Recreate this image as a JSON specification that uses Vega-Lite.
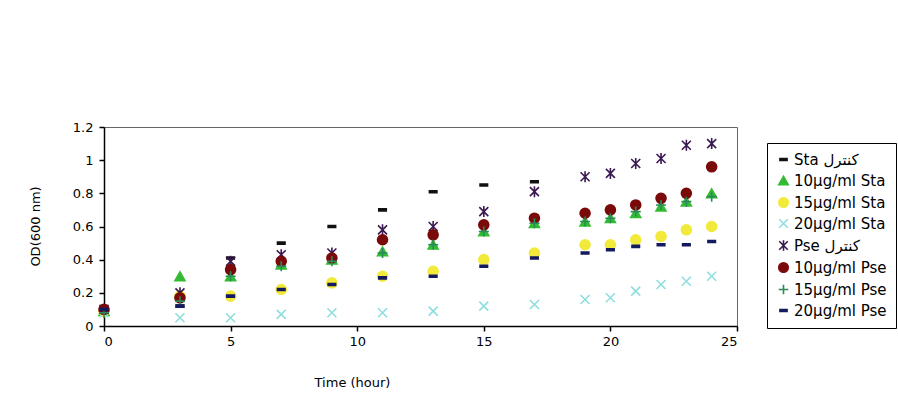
{
  "$schema": "https://vega.github.io/schema/vega-lite/v6.json",
  "width": 633,
  "height": 199,
  "autosize": {"type": "none"},
  "padding": {"left": 104, "top": 127, "right": 161, "bottom": 81},
  "background": "white",
  "config": {
    "font": "DejaVu Sans",
    "view": {"stroke": "#666666", "strokeWidth": 1},
    "axis": {
      "domainColor": "black",
      "domainWidth": 1.5,
      "tickColor": "black",
      "tickWidth": 1.5,
      "tickSize": 5,
      "labelFont": "DejaVu Sans",
      "labelFontSize": 13,
      "labelColor": "black",
      "titleFont": "DejaVu Sans",
      "titleFontSize": 13,
      "titleFontWeight": "normal",
      "titleColor": "black",
      "grid": false
    },
    "legend": {
      "labelFont": "DejaVu Sans",
      "labelFontSize": 15,
      "labelColor": "black"
    }
  },
  "data": {
    "values": [
      {"t": 0, "od": 0.10, "series": "Sta کنترل"},
      {"t": 3, "od": 0.12, "series": "Sta کنترل"},
      {"t": 5, "od": 0.41, "series": "Sta کنترل"},
      {"t": 7, "od": 0.50, "series": "Sta کنترل"},
      {"t": 9, "od": 0.60, "series": "Sta کنترل"},
      {"t": 11, "od": 0.70, "series": "Sta کنترل"},
      {"t": 13, "od": 0.81, "series": "Sta کنترل"},
      {"t": 15, "od": 0.85, "series": "Sta کنترل"},
      {"t": 17, "od": 0.87, "series": "Sta کنترل"},

      {"t": 0, "od": 0.09, "series": "10µg/ml Sta"},
      {"t": 3, "od": 0.30, "series": "10µg/ml Sta"},
      {"t": 5, "od": 0.30, "series": "10µg/ml Sta"},
      {"t": 7, "od": 0.37, "series": "10µg/ml Sta"},
      {"t": 9, "od": 0.40, "series": "10µg/ml Sta"},
      {"t": 11, "od": 0.45, "series": "10µg/ml Sta"},
      {"t": 13, "od": 0.49, "series": "10µg/ml Sta"},
      {"t": 15, "od": 0.57, "series": "10µg/ml Sta"},
      {"t": 17, "od": 0.62, "series": "10µg/ml Sta"},
      {"t": 19, "od": 0.63, "series": "10µg/ml Sta"},
      {"t": 20, "od": 0.65, "series": "10µg/ml Sta"},
      {"t": 21, "od": 0.68, "series": "10µg/ml Sta"},
      {"t": 22, "od": 0.72, "series": "10µg/ml Sta"},
      {"t": 23, "od": 0.75, "series": "10µg/ml Sta"},
      {"t": 24, "od": 0.80, "series": "10µg/ml Sta"},

      {"t": 0, "od": 0.09, "series": "15µg/ml Sta"},
      {"t": 3, "od": 0.18, "series": "15µg/ml Sta"},
      {"t": 5, "od": 0.18, "series": "15µg/ml Sta"},
      {"t": 7, "od": 0.22, "series": "15µg/ml Sta"},
      {"t": 9, "od": 0.26, "series": "15µg/ml Sta"},
      {"t": 11, "od": 0.30, "series": "15µg/ml Sta"},
      {"t": 13, "od": 0.33, "series": "15µg/ml Sta"},
      {"t": 15, "od": 0.40, "series": "15µg/ml Sta"},
      {"t": 17, "od": 0.44, "series": "15µg/ml Sta"},
      {"t": 19, "od": 0.49, "series": "15µg/ml Sta"},
      {"t": 20, "od": 0.49, "series": "15µg/ml Sta"},
      {"t": 21, "od": 0.52, "series": "15µg/ml Sta"},
      {"t": 22, "od": 0.54, "series": "15µg/ml Sta"},
      {"t": 23, "od": 0.58, "series": "15µg/ml Sta"},
      {"t": 24, "od": 0.60, "series": "15µg/ml Sta"},

      {"t": 0, "od": 0.08, "series": "20µg/ml Sta"},
      {"t": 3, "od": 0.05, "series": "20µg/ml Sta"},
      {"t": 5, "od": 0.05, "series": "20µg/ml Sta"},
      {"t": 7, "od": 0.07, "series": "20µg/ml Sta"},
      {"t": 9, "od": 0.08, "series": "20µg/ml Sta"},
      {"t": 11, "od": 0.08, "series": "20µg/ml Sta"},
      {"t": 13, "od": 0.09, "series": "20µg/ml Sta"},
      {"t": 15, "od": 0.12, "series": "20µg/ml Sta"},
      {"t": 17, "od": 0.13, "series": "20µg/ml Sta"},
      {"t": 19, "od": 0.16, "series": "20µg/ml Sta"},
      {"t": 20, "od": 0.17, "series": "20µg/ml Sta"},
      {"t": 21, "od": 0.21, "series": "20µg/ml Sta"},
      {"t": 22, "od": 0.25, "series": "20µg/ml Sta"},
      {"t": 23, "od": 0.27, "series": "20µg/ml Sta"},
      {"t": 24, "od": 0.30, "series": "20µg/ml Sta"},

      {"t": 0, "od": 0.10, "series": "Pse کنترل"},
      {"t": 3, "od": 0.20, "series": "Pse کنترل"},
      {"t": 5, "od": 0.39, "series": "Pse کنترل"},
      {"t": 7, "od": 0.43, "series": "Pse کنترل"},
      {"t": 9, "od": 0.44, "series": "Pse کنترل"},
      {"t": 11, "od": 0.58, "series": "Pse کنترل"},
      {"t": 13, "od": 0.60, "series": "Pse کنترل"},
      {"t": 15, "od": 0.69, "series": "Pse کنترل"},
      {"t": 17, "od": 0.81, "series": "Pse کنترل"},
      {"t": 19, "od": 0.90, "series": "Pse کنترل"},
      {"t": 20, "od": 0.92, "series": "Pse کنترل"},
      {"t": 21, "od": 0.98, "series": "Pse کنترل"},
      {"t": 22, "od": 1.01, "series": "Pse کنترل"},
      {"t": 23, "od": 1.09, "series": "Pse کنترل"},
      {"t": 24, "od": 1.10, "series": "Pse کنترل"},

      {"t": 0, "od": 0.10, "series": "10µg/ml Pse"},
      {"t": 3, "od": 0.17, "series": "10µg/ml Pse"},
      {"t": 5, "od": 0.34, "series": "10µg/ml Pse"},
      {"t": 7, "od": 0.39, "series": "10µg/ml Pse"},
      {"t": 9, "od": 0.41, "series": "10µg/ml Pse"},
      {"t": 11, "od": 0.52, "series": "10µg/ml Pse"},
      {"t": 13, "od": 0.55, "series": "10µg/ml Pse"},
      {"t": 15, "od": 0.61, "series": "10µg/ml Pse"},
      {"t": 17, "od": 0.65, "series": "10µg/ml Pse"},
      {"t": 19, "od": 0.68, "series": "10µg/ml Pse"},
      {"t": 20, "od": 0.70, "series": "10µg/ml Pse"},
      {"t": 21, "od": 0.73, "series": "10µg/ml Pse"},
      {"t": 22, "od": 0.77, "series": "10µg/ml Pse"},
      {"t": 23, "od": 0.80, "series": "10µg/ml Pse"},
      {"t": 24, "od": 0.96, "series": "10µg/ml Pse"},

      {"t": 0, "od": 0.08, "series": "15µg/ml Pse"},
      {"t": 3, "od": 0.15, "series": "15µg/ml Pse"},
      {"t": 5, "od": 0.30, "series": "15µg/ml Pse"},
      {"t": 7, "od": 0.36, "series": "15µg/ml Pse"},
      {"t": 9, "od": 0.39, "series": "15µg/ml Pse"},
      {"t": 11, "od": 0.44, "series": "15µg/ml Pse"},
      {"t": 13, "od": 0.49, "series": "15µg/ml Pse"},
      {"t": 15, "od": 0.57, "series": "15µg/ml Pse"},
      {"t": 17, "od": 0.62, "series": "15µg/ml Pse"},
      {"t": 19, "od": 0.63, "series": "15µg/ml Pse"},
      {"t": 20, "od": 0.65, "series": "15µg/ml Pse"},
      {"t": 21, "od": 0.69, "series": "15µg/ml Pse"},
      {"t": 22, "od": 0.73, "series": "15µg/ml Pse"},
      {"t": 23, "od": 0.75, "series": "15µg/ml Pse"},
      {"t": 24, "od": 0.78, "series": "15µg/ml Pse"},

      {"t": 0, "od": 0.10, "series": "20µg/ml Pse"},
      {"t": 3, "od": 0.12, "series": "20µg/ml Pse"},
      {"t": 5, "od": 0.18, "series": "20µg/ml Pse"},
      {"t": 7, "od": 0.22, "series": "20µg/ml Pse"},
      {"t": 9, "od": 0.25, "series": "20µg/ml Pse"},
      {"t": 11, "od": 0.29, "series": "20µg/ml Pse"},
      {"t": 13, "od": 0.30, "series": "20µg/ml Pse"},
      {"t": 15, "od": 0.36, "series": "20µg/ml Pse"},
      {"t": 17, "od": 0.41, "series": "20µg/ml Pse"},
      {"t": 19, "od": 0.44, "series": "20µg/ml Pse"},
      {"t": 20, "od": 0.46, "series": "20µg/ml Pse"},
      {"t": 21, "od": 0.48, "series": "20µg/ml Pse"},
      {"t": 22, "od": 0.49, "series": "20µg/ml Pse"},
      {"t": 23, "od": 0.49, "series": "20µg/ml Pse"},
      {"t": 24, "od": 0.51, "series": "20µg/ml Pse"}
    ]
  },
  "mark": {"type": "point", "filled": true, "opacity": 1, "strokeWidth": 1.6, "size": 100},
  "encoding": {
    "x": {
      "field": "t", "type": "quantitative",
      "scale": {"domain": [0, 25], "nice": false},
      "axis": {
        "values": [0, 5, 10, 15, 20, 25],
        "title": "Time (hour)",
        "labelPadding": 4,
        "titleX": 248,
        "titleY": 50,
        "titleAnchor": null
      }
    },
    "y": {
      "field": "od", "type": "quantitative",
      "scale": {"domain": [0, 1.2], "nice": false},
      "axis": {
        "values": [0, 0.2, 0.4, 0.6, 0.8, 1, 1.2],
        "format": "~g",
        "title": "OD(600 nm)",
        "labelPadding": 6,
        "titleX": -69,
        "titleY": 99,
        "titleAngle": -90,
        "titleAlign": "center",
        "titleBaseline": "middle"
      }
    },
    "shape": {
      "field": "series", "type": "nominal",
      "scale": {
        "domain": ["Sta کنترل", "10µg/ml Sta", "15µg/ml Sta", "20µg/ml Sta", "Pse کنترل", "10µg/ml Pse", "15µg/ml Pse", "20µg/ml Pse"],
        "range": [
          "M-0.75,-0.2H0.75V0.2H-0.75Z",
          "triangle-up",
          "circle",
          "M-0.9,-0.9L0.9,0.9M-0.9,0.9L0.9,-0.9",
          "M-0.9,-0.9L0.9,0.9M-0.9,0.9L0.9,-0.9M0,-1.1V1.1",
          "circle",
          "M-1,0H1M0,-1V1",
          "M-0.75,-0.2H0.75V0.2H-0.75Z"
        ]
      },
      "legend": {
        "title": null,
        "orient": "none",
        "legendX": 663,
        "legendY": 16,
        "strokeColor": "black",
        "fillColor": "white",
        "padding": 9,
        "rowPadding": 5,
        "labelOffset": 3,
        "symbolSize": 90,
        "symbolStrokeWidth": 1.6
      }
    },
    "color": {
      "field": "series", "type": "nominal",
      "scale": {
        "domain": ["Sta کنترل", "10µg/ml Sta", "15µg/ml Sta", "20µg/ml Sta", "Pse کنترل", "10µg/ml Pse", "15µg/ml Pse", "20µg/ml Pse"],
        "range": ["#111111", "#33bb33", "#f2ea3a", "#8fdede", "#3a1850", "#7a0a0a", "#2a8a5a", "#141a60"]
      }
    },
    "stroke": {
      "field": "series", "type": "nominal",
      "scale": {
        "domain": ["Sta کنترل", "10µg/ml Sta", "15µg/ml Sta", "20µg/ml Sta", "Pse کنترل", "10µg/ml Pse", "15µg/ml Pse", "20µg/ml Pse"],
        "range": ["#111111", "#33bb33", "#f2ea3a", "#8fdede", "#3a1850", "#7a0a0a", "#2a8a5a", "#141a60"]
      }
    }
  }
}
